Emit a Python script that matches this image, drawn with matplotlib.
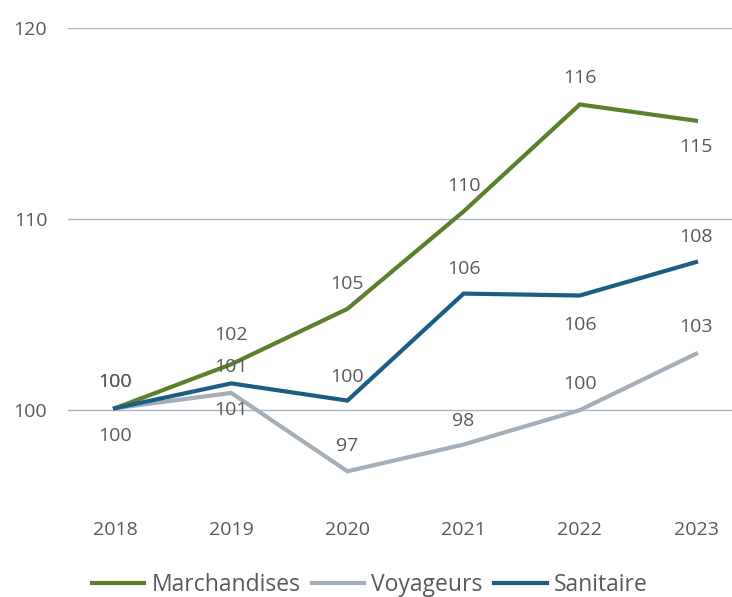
import matplotlib.pyplot as plt

annees = ['2018', '2019', '2020', '2021', '2022', '2023']
marchandises = [100.1, 102.4, 105.3, 110.4, 116.0, 115.15]
voyageurs = [100.1, 100.9, 96.8, 98.2, 100.0, 102.95]
sanitaire = [100.1, 101.4, 100.5, 106.1, 106.0, 107.75]

# décalage vertical des étiquettes (en points) : + au-dessus, - en dessous
pos_marchandises = [19, 21, 18, 18, 19, -19]
pos_voyageurs = [-20, -12, 18, 17, 19, 19]
pos_sanitaire = [19, 12, 17, 18, -21, 18]

plt.rcParams['font.family'] = ['Open Sans', 'DejaVu Sans']
gris_texte = '#595959'

fig = plt.figure(figsize=(7.32, 5.97), dpi=100)
ax = fig.add_axes([0.093, 0.153, 0.907, 0.800])

x = range(len(annees))
series = [
    ('Marchandises', marchandises, '#5b7f2b', pos_marchandises),
    ('Voyageurs', voyageurs, '#a4aeb9', pos_voyageurs),
    ('Sanitaire', sanitaire, '#1c5d84', pos_sanitaire),
]

for nom, valeurs, couleur, decal in series:
    ax.plot(x, valeurs, color=couleur, linewidth=3, label=nom,
            solid_joinstyle='miter', zorder=3)
    for xi, v, d in zip(x, valeurs, decal):
        ax.annotate(f'{round(v):d}', (xi, v), xytext=(0, d),
                    textcoords='offset points', ha='center', va='center',
                    fontsize=14, color=gris_texte, zorder=4)

ax.set_ylim(95, 120)
ax.set_xlim(-0.404, 5.31)
ax.set_yticks([100, 110, 120])
ax.set_xticks(list(x))
ax.set_xticklabels(annees)
ax.grid(axis='y', color='#a9b4c2', linewidth=1)
ax.set_axisbelow(True)
for s in ax.spines.values():
    s.set_visible(False)
ax.tick_params(axis='both', length=0, labelsize=14, colors=gris_texte)
ax.tick_params(axis='y', pad=15)
ax.tick_params(axis='x', pad=11)

fig.legend(loc='lower center', bbox_to_anchor=(0.505, -0.035), ncol=3,
           frameon=False, fontsize=16.5, handlelength=2.3, handletextpad=0.3,
           columnspacing=0.5, labelcolor=gris_texte)

fig.savefig('out.png', dpi=100)
